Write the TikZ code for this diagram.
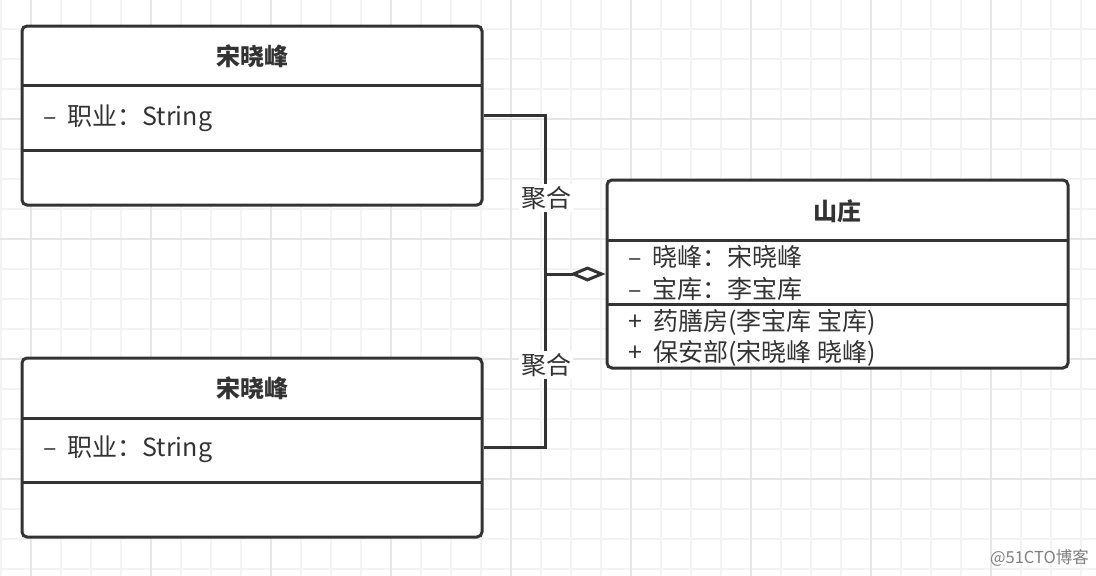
\documentclass[tikz,border=0pt]{standalone}
\usepackage{fontspec}
\setmainfont{Noto Sans CJK SC}
\usetikzlibrary{arrows.meta}

\definecolor{linegray}{HTML}{333333}
\definecolor{textgray}{HTML}{333333}
\definecolor{minorgray}{HTML}{F3F3F3}
\definecolor{majorgray}{HTML}{E6E6E6}

\newcommand{\mgap}{\hspace{11pt}}

\tikzset{
  umlbox/.style={draw=linegray, line width=3pt, rounded corners=5pt, fill=white,
                 minimum width=460pt, inner sep=0pt},
  umlline/.style={draw=linegray, line width=3pt},
  titletext/.style={font=\fontsize{24}{28}\selectfont\bfseries, text=textgray, inner sep=0pt},
  membertext/.style={font=\fontsize{25}{28}\selectfont, text=textgray, inner sep=0pt, anchor=west},
  aggtext/.style={font=\fontsize{25}{28}\selectfont, text=textgray, fill=white, inner sep=2pt},
}

\begin{document}
\begin{tikzpicture}[x=1pt, y=-1pt]
    % Canvas and grid
    \useasboundingbox (0,0) rectangle (1096,576);
    \fill[white] (0,0) rectangle (1096,576);
    \foreach \gx in {1,31,...,1091} \draw[minorgray, line width=1.5pt] (\gx,0) -- (\gx,576);
    \foreach \gy in {-1,29,...,569} \draw[minorgray, line width=1.5pt] (0,\gy) -- (1096,\gy);
    \foreach \gx in {31,151,...,991} \draw[majorgray, line width=1.5pt] (\gx,0) -- (\gx,576);
    \foreach \gy in {119,239,...,479} \draw[majorgray, line width=1.5pt] (0,\gy) -- (1096,\gy);

    % Class boxes
    \node[umlbox, minimum height=179pt] (song1) at (252,115.5) {};
    \node[umlbox, minimum height=179pt] (song2) at (252,447.5) {};
    \node[umlbox, minimum width=461pt, minimum height=188pt] (shanzhuang) at (837.5,274) {};

    % Compartment dividers
    \draw[umlline] (22,85) -- (482,85);
    \draw[umlline] (22,150) -- (482,150);
    \draw[umlline] (22,418) -- (482,418);
    \draw[umlline] (22,482) -- (482,482);
    \draw[umlline] (607,240) -- (1068,240);
    \draw[umlline] (607,304) -- (1068,304);

    % Texts of the boxes
    \node[titletext] (song1title) at (252,56) {宋晓峰};
    \node[membertext] (song1attr) at (43,118) {–\mgap 职业：String};
    \node[titletext] (song2title) at (252,388) {宋晓峰};
    \node[membertext] (song2attr) at (43,449) {–\mgap 职业：String};
    \node[titletext] (shanzhuangtitle) at (837.5,211) {山庄};
    \node[membertext] (attr1) at (628,257) {–\mgap 晓峰：宋晓峰};
    \node[membertext] (attr2) at (628,289) {–\mgap 宝库：李宝库};
    \node[membertext] (op1) at (628,322) {+\mgap 药膳房(李宝库\hspace{6pt}宝库)};
    \node[membertext] (op2) at (628,353) {+\mgap 保安部(宋晓峰\hspace{6pt}晓峰)};

    % Aggregation connectors
    \coordinate (join) at (545,274);
    \draw[umlline] (song1.east) -| (join);
    \draw[umlline] (song2.east) -| (join);
    \draw[umlline, -{Diamond[open, fill=white, length=36pt, width=15pt]}] (join) -- (shanzhuang.west);
    \node[aggtext] (agg1) at (546,198) {聚合};
    \node[aggtext] (agg2) at (546,365) {聚合};

    % Watermark
    \node[font=\fontsize{16.5}{18}\selectfont, text=gray, inner sep=0pt, anchor=east] (mark) at (1089,558) {@51CTO博客};
\end{tikzpicture}
\end{document}
